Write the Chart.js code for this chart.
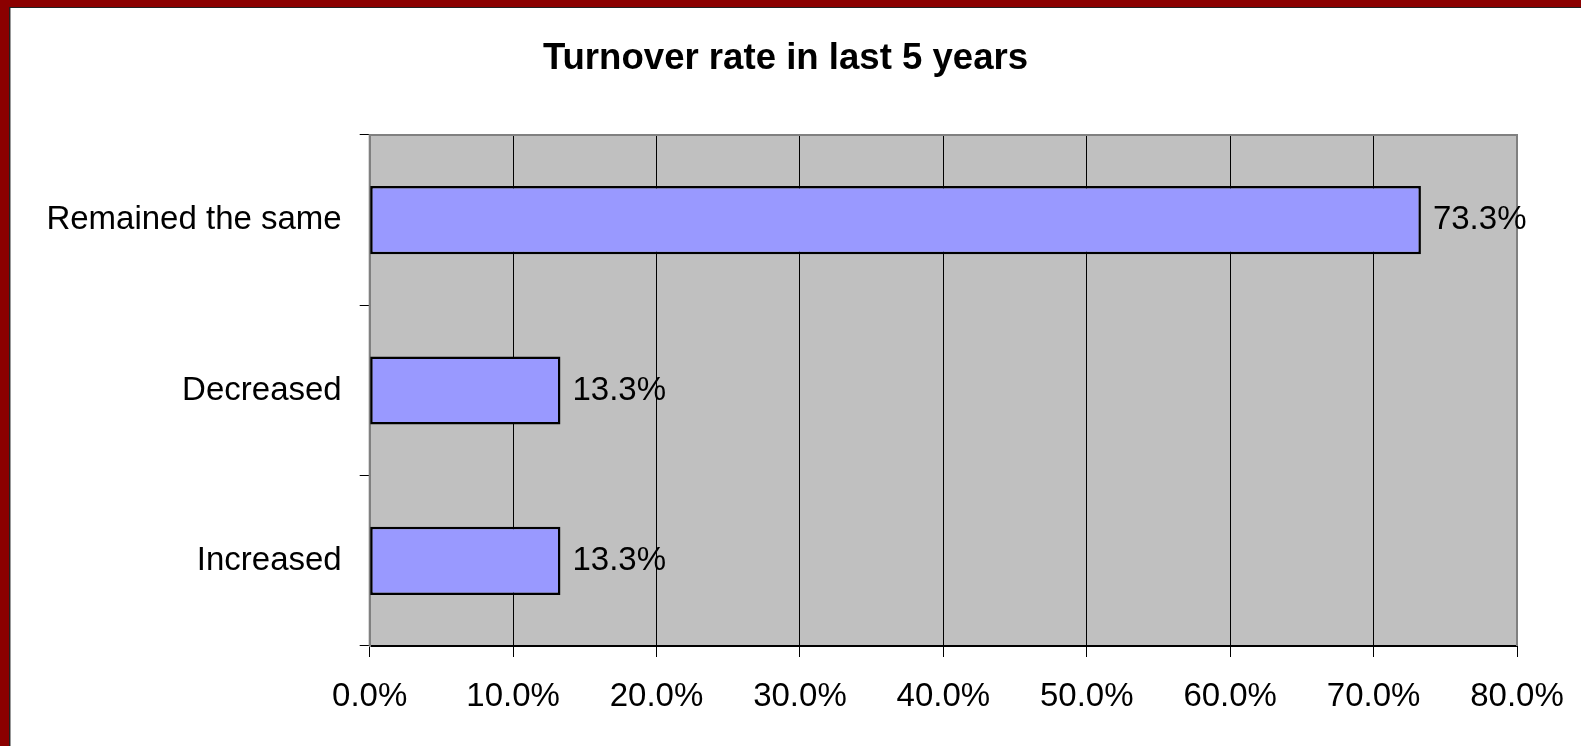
<!DOCTYPE html>
<html>
<head>
<meta charset="utf-8">
<title>Turnover rate in last 5 years</title>
<script src="https://cdn.jsdelivr.net/npm/chart.js@4/dist/chart.umd.min.js"></script>
<style>
    html, body { margin: 0; padding: 0; background: #fff; }
    #wrap { position: relative; width: 1581px; height: 746px; overflow: hidden; }
    #turnoverChart { position: absolute; left: 0; top: 0; }
    .edge { position: absolute; }
</style>
</head>
<body>
<div id="wrap">
    <canvas id="turnoverChart" width="1581" height="746"></canvas>
    <!-- red frame (only top and left are visible in the screenshot) -->
    <div class="edge" style="left:0;top:0;width:1581px;height:7px;background:#8b0000"></div>
    <div class="edge" style="left:0;top:0;width:9px;height:746px;background:#8b0000"></div>
    <div class="edge" style="left:9px;top:7px;width:1572px;height:1px;background:#222"></div>
    <div class="edge" style="left:9px;top:7px;width:1px;height:739px;background:#222"></div>
    <div class="edge" style="left:10px;top:8px;width:1px;height:738px;background:#999"></div>
</div>
<script>
// chart data
const categories = ['Remained the same', 'Decreased', 'Increased'];
const percentValues = [73.3, 13.3, 13.3];
const xTicks = [0, 10, 20, 30, 40, 50, 60, 70, 80];

const FONT = '"Liberation Sans", Arial, sans-serif';

// grey plot background + grey frame on top/right/left
const plotAreaPlugin = {
    id: 'plotArea',
    beforeDraw(chart) {
        const { ctx, chartArea: a } = chart;
        ctx.save();
        ctx.fillStyle = '#c0c0c0';
        ctx.fillRect(a.left, a.top, a.right - a.left, a.bottom - a.top);
        ctx.restore();
    },
    beforeDatasetsDraw(chart) {
        const { ctx, chartArea: a } = chart;
        ctx.save();
        ctx.strokeStyle = '#808080';
        ctx.lineWidth = 2;
        ctx.beginPath();
        ctx.moveTo(a.left, a.bottom);
        ctx.lineTo(a.left, a.top);
        ctx.lineTo(a.right, a.top);
        ctx.lineTo(a.right, a.bottom);
        ctx.stroke();
        ctx.restore();
    },
};

// value labels next to the bars
const valueLabelPlugin = {
    id: 'valueLabels',
    afterDatasetsDraw(chart) {
        const { ctx } = chart;
        const meta = chart.getDatasetMeta(0);
        ctx.save();
        ctx.font = '33px ' + FONT;
        ctx.fillStyle = '#000';
        ctx.textAlign = 'left';
        ctx.textBaseline = 'middle';
        meta.data.forEach((bar, i) => {
            const v = chart.data.datasets[0].data[i];
            ctx.fillText(v.toFixed(1) + '%', bar.x + 12, bar.y);
        });
        ctx.restore();
    },
};

function createChart() {
    const chart = new Chart(document.getElementById('turnoverChart'), {
        type: 'bar',
        data: {
            labels: categories,
            datasets: [
                {
                    data: percentValues,
                    backgroundColor: '#9999ff',
                    borderColor: '#000',
                    borderWidth: 2.5,
                    borderSkipped: false,
                    categoryPercentage: 1,
                    barPercentage: 0.4,
                },
            ],
        },
        options: {
            indexAxis: 'y',
            responsive: false,
            animation: false,
            layout: {
                padding: { left: 30, right: 40, top: 0, bottom: 0 },
            },
            scales: {
                x: {
                    min: 0,
                    max: 80,
                    afterBuildTicks: (axis) => {
                        axis.ticks = xTicks.map((v) => ({ value: v }));
                    },
                    afterFit: (axis) => {
                        axis.height = 100;
                        // the end labels may hang past the plot, there is room for them
                        axis.paddingLeft = 0;
                        axis.paddingRight = 0;
                    },
                    grid: {
                        color: '#000',
                        lineWidth: 1,
                        tickLength: 11,
                        drawTicks: true,
                    },
                    border: { color: '#000', width: 2 },
                    ticks: {
                        padding: 20,
                        color: '#000',
                        font: { family: FONT, size: 33 },
                        maxRotation: 0,
                        callback: (v) => Number(v).toFixed(1) + '%',
                    },
                },
                y: {
                    afterFit: (axis) => {
                        axis.width = 339.7;
                    },
                    grid: {
                        offset: true,
                        drawOnChartArea: false,
                        drawTicks: true,
                        tickLength: 10,
                        color: '#000',
                    },
                    border: { color: '#808080', width: 2 },
                    ticks: {
                        padding: 18,
                        color: '#000',
                        font: { family: FONT, size: 33 },
                    },
                },
                // empty spacer on the right so the title stays centred on the whole frame
                spacer: {
                    axis: 'y',
                    type: 'category',
                    position: 'right',
                    grid: { display: false },
                    border: { display: false },
                    ticks: { display: false },
                    afterFit: (axis) => {
                        axis.width = 24;
                    },
                },
            },
            plugins: {
                legend: { display: false },
                tooltip: { enabled: false },
                title: {
                    display: true,
                    text: 'Turnover rate in last 5 years',
                    color: '#000',
                    font: { family: FONT, size: 36.6, weight: 'bold', lineHeight: 1.2 },
                    padding: { top: 37, bottom: 54 },
                },
            },
        },
        plugins: [plotAreaPlugin, valueLabelPlugin],
    });
    return chart;
}

createChart();
</script>
</body>
</html>
